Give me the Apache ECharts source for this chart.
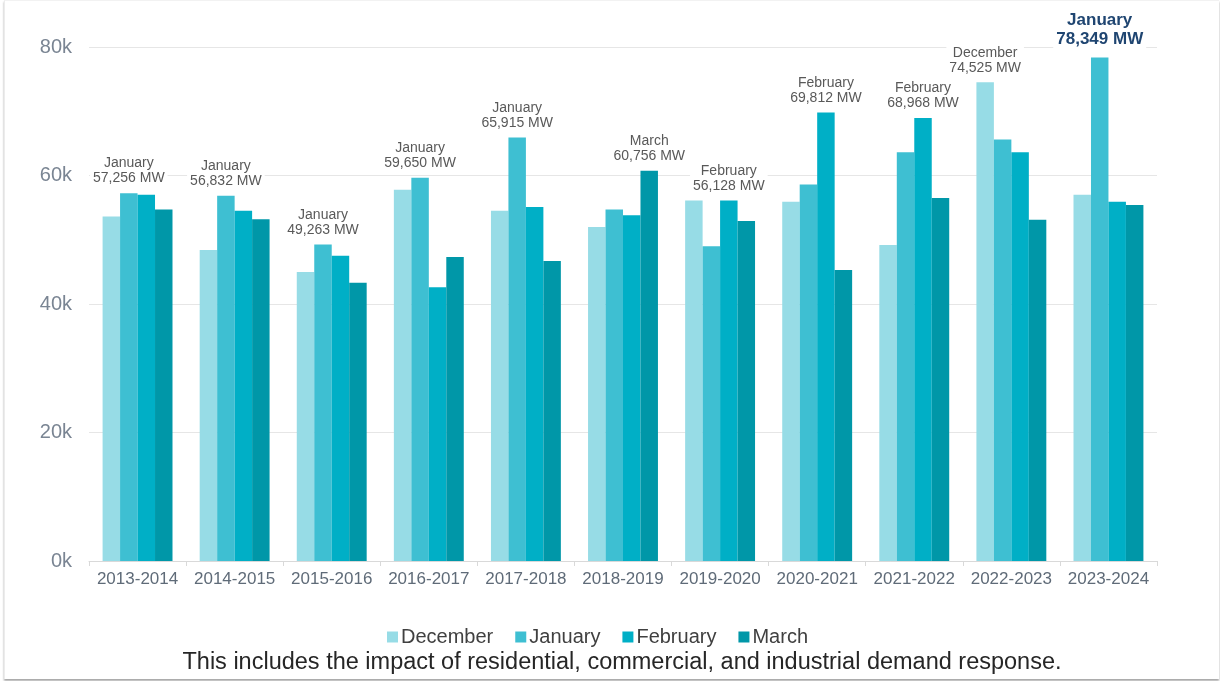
<!DOCTYPE html>
<html>
<head>
<meta charset="utf-8">
<script src="https://cdn.jsdelivr.net/npm/echarts@6/dist/echarts.min.js"></script>
<style>
  html, body { margin: 0; padding: 0; background: #fff; }
  #frame { position: absolute; left: 4px; top: 0; width: 1214px; height: 678px;
           border-left: 1px solid #ececec; border-top: 1px solid #f2f2f2;
           box-shadow: 0 2px 2px rgba(0,0,0,0.35); background: #fff; }
  #chart { position: absolute; left: 0; top: 0; width: 1220px; height: 681px; }
</style>
</head>
<body>
<div id="frame"></div>
<div id="chart"></div>
<script>
// winter seasons
var seasons = ['2013-2014', '2014-2015', '2015-2016', '2016-2017', '2017-2018', '2018-2019',
	'2019-2020', '2020-2021', '2021-2022', '2022-2023', '2023-2024'];
var months = ['December', 'January', 'February', 'March'];

// peak load per month, MW
var december = [53600, 48400, 45000, 57800, 54500, 52000, 56100, 55900, 49200, 74525, 57000];
var january  = [57256, 56832, 49263, 59650, 65915, 54700, 49000, 58600, 63600, 65600, 78349];
var february = [57000, 54500, 47500, 42600, 55100, 53800, 56128, 69812, 68968, 63600, 55900];
var march    = [54700, 53200, 43300, 47300, 46700, 60756, 52900, 45300, 56500, 53100, 55400];

// which month held the season peak (index into months)
var peakMonth = [1, 1, 1, 1, 1, 3, 2, 2, 2, 0, 1];

var colors = ['#97DCE6', '#3EBFD2', '#00AFC6', '#0097A8'];
var seriesValues = [december, january, february, march];

var fmt = function(v) {
	return String(v).replace(/\B(?=(\d{3})+(?!\d))/g, ',');
};

var myChart = echarts.init(document.getElementById('chart'));

var series = [];
for (var m = 0; m < months.length; m++) {
	var data = [];
	for (var i = 0; i < seasons.length; i++) {
		var item = { value: seriesValues[m][i] };
		if (peakMonth[i] === m) {
			var last = i === seasons.length - 1;
			item.label = {
				show: true,
				position: 'top',
				distance: last ? 9 : 7,
				formatter: months[m] + '\n' + fmt(seriesValues[m][i]) + ' MW',
				fontFamily: 'Liberation Sans',
				fontSize: last ? 17 : 14,
				fontWeight: last ? 'bold' : 'normal',
				lineHeight: last ? 19 : 15,
				color: last ? '#1F4571' : '#595959',
				backgroundColor: '#fff',
				padding: [0, 3, 0, 3]
			};
		}
		data.push(item);
	}
	series.push({
		name: months[m],
		type: 'bar',
		data: data,
		barGap: '0%',
		barCategoryGap: '28%',
		itemStyle: { color: colors[m] },
		z: 2
	});
}

var options = {
	animation: false,
	textStyle: { fontFamily: 'Liberation Sans' },
	grid: { left: 89, right: 63, top: 47, bottom: 120 },
	legend: {
		data: months,
		left: 382,
		top: 622,
		icon: 'rect',
		itemWidth: 11,
		itemHeight: 11,
		itemGap: 22,
		textStyle: { fontSize: 20, color: '#404040', padding: [0, 0, 0, -2] }
	},
	graphic: [{
		type: 'text',
		x: 622,
		y: 663,
		style: {
			text: 'This includes the impact of residential, commercial, and industrial demand response.',
			fontFamily: 'Liberation Sans',
			fontSize: 23.5,
			fill: '#262626',
			align: 'center',
			verticalAlign: 'middle'
		}
	}],
	xAxis: [{
		type: 'category',
		data: seasons,
		axisLine: { lineStyle: { color: '#d9d9d9' } },
		axisTick: { show: true, length: 5, lineStyle: { color: '#d9d9d9' } },
		axisLabel: { interval: 0, fontSize: 17, color: '#5F6B78', margin: 10 }
	}],
	yAxis: [{
		type: 'value',
		min: 0,
		max: 80000,
		interval: 20000,
		axisLine: { show: false },
		axisTick: { show: false },
		axisLabel: {
			fontSize: 20,
			color: '#7A8593',
			margin: 17,
			formatter: function(v) { return (v / 1000) + 'k'; }
		},
		splitLine: { lineStyle: { color: '#e6e6e6', width: 1 } }
	}],
	series: series
};

myChart.setOption(options, true);
</script>
</body>
</html>
